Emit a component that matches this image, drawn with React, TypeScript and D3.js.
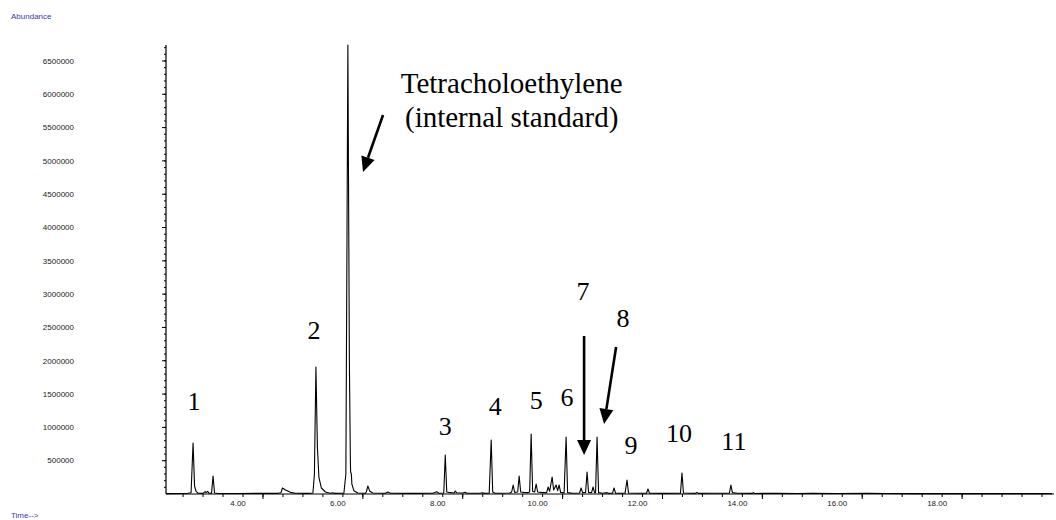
import React from 'react';
import * as d3 from 'd3';

// Total ion chromatogram trace: retention time (min) and abundance (counts)
const retentionTime = [
  2.56, 2.9, 3.0, 3.06, 3.1, 3.13, 3.16, 3.2, 3.3, 3.34, 3.36, 3.39, 3.42, 3.47, 3.5, 3.53,
  3.6, 4.0, 4.4, 4.8, 4.86, 4.89, 4.95, 5.05, 5.15, 5.4,
  5.5, 5.53, 5.56, 5.59, 5.62, 5.67, 5.75, 5.85, 5.9, 5.93,
  6.12, 6.16, 6.2, 6.23, 6.25, 6.255, 6.27, 6.28, 6.32, 6.4, 6.55,
  6.57, 6.6, 6.64, 6.7, 6.95, 7.0, 7.05, 7.5, 7.9, 7.98, 8.02, 8.12, 8.15, 8.18, 8.25,
  8.33, 8.35, 8.38, 8.5, 8.55, 8.58, 8.85, 8.9, 8.93,
  9.03, 9.07, 9.1, 9.15, 9.45, 9.48, 9.51, 9.54, 9.6, 9.63, 9.66, 9.72, 9.8, 9.84, 9.87,
  9.9, 9.94, 9.97, 10.0, 10.1, 10.18, 10.21, 10.24, 10.29, 10.32, 10.37, 10.4, 10.43,
  10.46, 10.53, 10.57, 10.6, 10.7, 10.84, 10.87, 10.9, 10.96, 10.99, 11.02, 11.08, 11.11,
  11.14, 11.16, 11.19, 11.22, 11.3, 11.39, 11.42, 11.5, 11.53, 11.56, 11.75, 11.79, 11.82,
  12.0, 12.18, 12.21, 12.24, 12.5, 12.86, 12.89, 12.92, 13.16, 13.19, 13.22, 13.5, 13.84,
  13.87, 13.9, 14.0, 14.3, 14.32, 14.35, 14.8, 15.2, 15.5, 16.0, 16.6, 17.0, 17.5, 18.0,
  19.0, 20.3,
];

const abundance = [
  5000, 8000, 10000, 20000, 766000, 120000, 40000, 12000, 10000, 35000, 20000, 40000, 12000, 12000, 270000, 15000,
  8000, 8000, 10000, 10000, 20000, 90000, 60000, 25000, 12000, 10000,
  15000, 300000, 1907000, 700000, 250000, 90000, 30000, 12000, 18000, 10000,
  12000, 300000, 6740000, 2000000, 500000, 330000, 300000, 150000, 50000, 15000, 12000,
  30000, 120000, 40000, 15000, 12000, 30000, 12000, 10000, 12000, 35000, 12000, 15000, 585000, 30000, 20000,
  15000, 45000, 18000, 15000, 25000, 12000, 12000, 20000, 10000,
  12000, 810000, 30000, 12000, 15000, 30000, 135000, 25000, 30000, 270000, 30000, 25000, 20000, 30000, 900000,
  40000, 30000, 150000, 30000, 20000, 20000, 105000, 40000, 255000, 60000, 135000, 50000, 135000,
  25000, 15000, 855000, 20000, 12000, 15000, 90000, 20000, 25000, 330000, 25000, 20000, 105000,
  20000, 20000, 855000, 20000, 12000, 20000, 10000, 12000, 90000, 12000, 12000, 210000, 15000,
  12000, 12000, 75000, 12000, 10000, 12000, 315000, 15000, 10000, 25000, 10000, 12000, 12000,
  135000, 20000, 12000, 10000, 20000, 8000, 10000, 8000, 12000, 8000, 10000, 8000, 6000, 6000,
  5000, 5000,
];

// Axis ticks
const yTickValues = [500000, 1000000, 1500000, 2000000, 2500000, 3000000, 3500000, 4000000, 4500000, 5000000, 5500000, 6000000, 6500000];
const xTickLabels = [4, 6, 8, 10, 12, 14, 16, 18];

// Numbered peak labels, placed in data units (time, abundance)
const peakLabelText = ['1', '2', '3', '4', '5', '6', '7', '8', '9', '10', '11'];
const peakLabelTime = [3.12, 5.52, 8.15, 9.15, 9.97, 10.59, 10.91, 11.71, 11.87, 12.83, 13.93];
const peakLabelAbundance = [1261000, 2327000, 886000, 1186000, 1276000, 1321000, 2913000, 2508000, 601000, 781000, 661000];

// Annotation arrows: [start time, start abundance, tip time, tip abundance]
const arrowStartTime = [6.904, 10.93, 11.571];
const arrowStartAbundance = [5690000, 2372000, 2207000];
const arrowTipTime = [6.503, 10.93, 11.33];
const arrowTipAbundance = [4835000, 585000, 1051000];

const standardName = ['Tetracholoethylene', '(internal standard)'];
const standardTime = 9.48;
const standardAbundance = [6021000, 5511000];

const W = 1056;
const H = 520;

export default function App() {
  const x = d3.scaleLinear().domain([2.558, 20.32]).range([166, 1053]);
  const y = d3.scaleLinear().domain([0, 6740000]).range([494, 45]);

  const line = d3
    .line<number>()
    .x((_, i) => x(retentionTime[i]))
    .y((d) => y(d));

  const xMinor = d3.range(2.9, 20.32, 0.4);
  const xMajor = xTickLabels.map((t) => t + 0.5);
  const yMinor = d3.range(100000, 6740000, 100000);

  const tickFont = '"Liberation Sans", Arial, sans-serif';
  const serif = '"Liberation Serif", "Times New Roman", serif';

  const arrows = arrowStartTime.map((_, i) => {
    const x1 = x(arrowStartTime[i]);
    const y1 = y(arrowStartAbundance[i]);
    const x2 = x(arrowTipTime[i]);
    const y2 = y(arrowTipAbundance[i]);
    const len = Math.hypot(x2 - x1, y2 - y1);
    const ux = (x2 - x1) / len;
    const uy = (y2 - y1) / len;
    const headLen = 15;
    const headHalf = 7;
    const bx = x2 - ux * headLen;
    const by = y2 - uy * headLen;
    const pts = [
      [x2, y2],
      [bx - uy * headHalf, by + ux * headHalf],
      [bx + uy * headHalf, by - ux * headHalf],
    ];
    return { x1, y1, bx, by, pts };
  });

  return (
    <svg
      width={W}
      height={H}
      style={{ position: 'absolute', left: 0, top: 0, background: '#fff' }}
    >
      <text x={11} y={19} fontFamily={tickFont} fontSize={8} fill="#3a3aa8">
        Abundance
      </text>
      <text x={11} y={518} fontFamily={tickFont} fontSize={8} fill="#3a3aa8">
        Time--&gt;
      </text>

      {/* y axis */}
      <line x1={166} x2={166} y1={y(6740000)} y2={y(0)} stroke="#000" strokeWidth={1.2} />
      {yMinor.map((v) => (
        <line key={'ym' + v} x1={164} x2={166} y1={y(v)} y2={y(v)} stroke="#000" strokeWidth={1} />
      ))}
      {yTickValues.map((v) => (
        <g key={'yt' + v}>
          <line x1={162} x2={166} y1={y(v)} y2={y(v)} stroke="#000" strokeWidth={1} />
          <text
            x={74}
            y={y(v)}
            dy="0.35em"
            textAnchor="end"
            fontFamily={tickFont}
            fontSize={8}
            fill="#222"
          >
            {v}
          </text>
        </g>
      ))}

      {/* x axis */}
      <line x1={166} x2={1054} y1={y(0)} y2={y(0)} stroke="#000" strokeWidth={1.2} />
      {xMinor.map((t) => (
        <line key={'xm' + t} x1={x(t)} x2={x(t)} y1={y(0)} y2={y(0) + 3} stroke="#000" strokeWidth={1} />
      ))}
      {xMajor.map((t) => (
        <line key={'xM' + t} x1={x(t)} x2={x(t)} y1={y(0)} y2={y(0) + 5} stroke="#000" strokeWidth={1} />
      ))}
      {xTickLabels.map((t) => (
        <text
          key={'xl' + t}
          x={x(t)}
          y={506}
          textAnchor="middle"
          fontFamily={tickFont}
          fontSize={8}
          fill="#222"
        >
          {t.toFixed(2)}
        </text>
      ))}

      {/* chromatogram trace */}
      <path d={line(abundance) ?? ''} fill="none" stroke="#000" strokeWidth={1.1} strokeLinejoin="round" />

      {/* peak numbers */}
      {peakLabelText.map((s, i) => (
        <text
          key={'pl' + s}
          x={x(peakLabelTime[i])}
          y={y(peakLabelAbundance[i])}
          textAnchor="middle"
          fontFamily={serif}
          fontSize={26}
          fill="#000"
        >
          {s}
        </text>
      ))}

      {/* internal standard annotation */}
      {standardName.map((s, i) => (
        <text
          key={'sn' + i}
          x={x(standardTime)}
          y={y(standardAbundance[i])}
          textAnchor="middle"
          fontFamily={serif}
          fontSize={29}
          fill="#000"
        >
          {s}
        </text>
      ))}

      {arrows.map((a, i) => (
        <g key={'ar' + i}>
          <line x1={a.x1} y1={a.y1} x2={a.bx} y2={a.by} stroke="#000" strokeWidth={2.6} />
          <polygon points={a.pts.map((p) => p.join(',')).join(' ')} fill="#000" />
        </g>
      ))}
    </svg>
  );
}
